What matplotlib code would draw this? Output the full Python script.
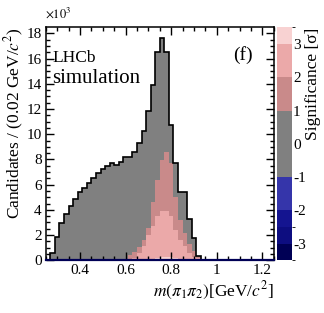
import numpy as np
import matplotlib
matplotlib.use("Agg")
import matplotlib.pyplot as plt
from matplotlib.colors import ListedColormap, BoundaryNorm
from matplotlib.cm import ScalarMappable
from matplotlib.ticker import MultipleLocator

plt.rcParams["font.family"] = ["Liberation Serif", "DejaVu Serif"]
plt.rcParams["mathtext.fontset"] = "stix"
plt.rcParams["axes.unicode_minus"] = False

# bin edges of m(pi1 pi2) in GeV/c^2 (0.02 wide)
edges = np.round(np.arange(0.27, 0.9301, 0.02), 3)

# candidates per bin (x10^3), all significances
total = [0.55, 1.87, 2.93, 3.67, 4.30, 4.84, 5.44, 5.71, 6.15, 6.53,
         6.90, 7.21, 7.48, 7.69, 7.56, 7.80, 8.22, 8.22, 8.60, 9.28,
         10.25, 11.84, 13.90, 16.54, 17.60, 16.54, 10.70, 7.69, 5.44, 5.40,
         3.27, 1.74, 0.35]
# cumulative: significance above 1 sigma
sig1 = [0.0, 0.0, 0.0, 0.0, 0.0, 0.0, 0.0, 0.0, 0.0, 0.0,
        0.0, 0.0, 0.0, 0.0, 0.0, 0.02, 0.12, 0.42, 0.69, 1.08,
        1.60, 2.56, 4.65, 6.37, 7.95, 8.60, 7.69, 5.00, 3.20, 2.20,
        1.30, 0.70, 0.30]
# significance above 2 sigma
sig2 = [0.0, 0.0, 0.0, 0.0, 0.0, 0.0, 0.0, 0.0, 0.0, 0.0,
        0.0, 0.0, 0.0, 0.0, 0.0, 0.0, 0.0, 0.05, 0.15, 0.55,
        1.10, 2.00, 2.70, 3.50, 3.93, 3.93, 3.50, 2.40, 1.60, 1.10,
        0.55, 0.30, 0.15]
# significance above 3 sigma
sig3 = [0.0, 0.0, 0.0, 0.0, 0.0, 0.0, 0.0, 0.0, 0.0, 0.0,
        0.0, 0.05, 0.10, 0.15, 0.25, 0.30, 0.30, 0.20, 0.10, 0.05,
        0.0, 0.0, 0.0]
sig3 = [0.0] * 10 + sig3

# colour palette of the significance scale
sig_bounds = [-3.5, -3, -2.5, -2, -1, 1, 2, 3, 3.5]
sig_colors = ["#000055", "#0d0d80", "#141490", "#3535aa", "#808080",
              "#c98a8a", "#eba9a9", "#f8d2d2"]

fig = plt.figure(figsize=(3.24, 3.13), dpi=100)
ax = fig.add_axes([0.1414, 0.1684, 0.7034, 0.7444])

ax.stairs(total, edges, fill=True, color=sig_colors[4])
ax.stairs(sig1, edges, fill=True, color=sig_colors[5])
ax.stairs(sig2, edges, fill=True, color=sig_colors[6])
ax.stairs(sig3, edges, fill=True, color=sig_colors[7])
ax.stairs(total, edges, color="black", linewidth=1.2)

ax.set_xlim(0.25, 1.25)
ax.set_ylim(0, 18.48)
ax.xaxis.set_major_locator(MultipleLocator(0.2))
ax.xaxis.set_minor_locator(MultipleLocator(0.05))
ax.yaxis.set_major_locator(MultipleLocator(2))
ax.yaxis.set_minor_locator(MultipleLocator(0.5))
ax.xaxis.set_major_formatter(plt.FuncFormatter(lambda v, p: f"{v:g}"))
ax.tick_params(which="both", direction="in", top=True, right=True,
               labelsize=11, width=1, pad=3)
ax.tick_params(which="major", length=6)
ax.tick_params(which="minor", length=3)
for s in ax.spines.values():
    s.set_linewidth(1.1)
ax.spines["bottom"].set_color("#000055")
ax.spines["bottom"].set_linewidth(1.6)

ax.set_xlabel(r"$m(\pi_1\pi_2)$[GeV/$c^2$]", fontsize=12.5, loc="right",
              labelpad=2)
ax.set_ylabel(r"Candidates / (0.02 GeV/$c^2$)", fontsize=12.5, loc="top",
              labelpad=0.5)
fig.text(0.138, 0.958, r"$\times10^3$", fontsize=9, va="center", ha="left")

ax.text(0.027, 0.868, "LHCb", transform=ax.transAxes, fontsize=12.5,
        va="center", ha="left")
ax.text(0.027, 0.78, "simulation", transform=ax.transAxes, fontsize=15,
        va="center", ha="left")
ax.text(0.865, 0.88, "(f)", transform=ax.transAxes, fontsize=14,
        va="center", ha="center")

# significance colour scale
cax = fig.add_axes([0.854, 0.1684, 0.048, 0.7444])
cmap = ListedColormap(sig_colors)
norm = BoundaryNorm(sig_bounds, cmap.N)
cb = fig.colorbar(ScalarMappable(norm=norm, cmap=cmap), cax=cax,
                  spacing="proportional", ticks=[-3, -2, -1, 0, 1, 2, 3])
cb.outline.set_visible(False)
cb.ax.tick_params(length=0, pad=0.5, labelsize=11)
fig.text(0.965, 0.9128, "Significance [σ]", fontsize=12.5, rotation=90,
         ha="center", va="top")

fig.savefig("out.png", dpi=100)
